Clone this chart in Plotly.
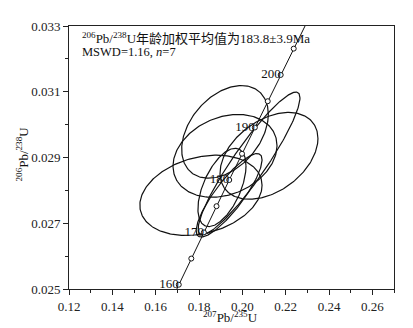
import numpy as np
import plotly.graph_objects as go

# ---- data ----
# ellipse centres (207Pb/235U, 206Pb/238U), half-axes (2 sigma) and error correlation
pb207_235 = [0.1920, 0.2031, 0.2123, 0.1920, 0.1809, 0.1939, 0.1906]
err207 = [0.0200, 0.0235, 0.0226, 0.0240, 0.0282, 0.0152, 0.0111]
pb206_238 = [0.02978, 0.02882, 0.02905, 0.02905, 0.02785, 0.02785, 0.02809]
err206 = [0.00141, 0.00217, 0.00132, 0.00126, 0.00122, 0.00127, 0.00119]
rho = [0.38, 0.92, 0.40, 0.25, 0.25, 0.85, 0.55]

# concordia ages (Ma)
conc_ages = [160, 165, 170, 175, 180, 185, 190, 195, 200, 205]
label_ages = [160, 170, 180, 190, 200]
x_ticks = [0.12, 0.14, 0.16, 0.18, 0.20, 0.22, 0.24, 0.26]
y_ticks = [0.025, 0.027, 0.029, 0.031, 0.033]

L238 = 1.55125e-10
L235 = 9.8485e-10


def conc(t_ma):
    t = np.asarray(t_ma, dtype=float) * 1e6
    return np.exp(L235 * t) - 1, np.exp(L238 * t) - 1


SERIF = "Liberation Serif, Times New Roman, serif"
fig = go.Figure()

th = np.linspace(0, 2 * np.pi, 240)
for cx, sx, cy, sy, r in zip(pb207_235, err207, pb206_238, err206, rho):
    ex = cx + sx * np.cos(th)
    ey = cy + sy * (r * np.cos(th) + np.sqrt(1 - r * r) * np.sin(th))
    fig.add_trace(go.Scatter(x=ex, y=ey, mode="lines",
                             line=dict(color="#111", width=1.2),
                             hoverinfo="skip", showlegend=False))

# concordia curve
tc = np.linspace(155, 215, 200)
cxl, cyl = conc(tc)
fig.add_trace(go.Scatter(x=cxl, y=cyl, mode="lines",
                         line=dict(color="#111", width=1), showlegend=False))
mx, my = conc(conc_ages)
fig.add_trace(go.Scatter(x=mx, y=my, mode="markers",
                         marker=dict(symbol="circle", size=5, color="white",
                                     line=dict(color="#111", width=1)),
                         showlegend=False))
lx, ly = conc(label_ages)
fig.add_trace(go.Scatter(x=lx, y=ly, mode="text", text=[str(a) for a in label_ages],
                         textposition="middle left",
                         textfont=dict(family=SERIF, size=13, color="#111"),
                         showlegend=False))

fig.add_annotation(xref="paper", yref="paper", x=0.034, y=0.958, xanchor="left", yanchor="middle",
                   text="<sup>206</sup>Pb/<sup>238</sup>U<span style='font-family:Noto Sans CJK SC'>年龄加权平均值为</span>183.8±3.9Ma",
                   showarrow=False, font=dict(family=SERIF, size=13, color="#111"))
fig.add_annotation(xref="paper", yref="paper", x=0.034, y=0.903, xanchor="left", yanchor="middle",
                   text="MSWD=1.16, <i>n</i>=7",
                   showarrow=False, font=dict(family=SERIF, size=12.5, color="#111"))

fig.add_annotation(xref="paper", yref="paper", x=0.496, y=-0.108, xanchor="center", yanchor="middle",
                   text="<sup>207</sup>Pb/<sup>235</sup>U", showarrow=False,
                   font=dict(family=SERIF, size=13, color="#111"))
fig.add_annotation(xref="paper", yref="paper", x=-0.145, y=0.515, xanchor="center", yanchor="middle",
                   text="<sup>206</sup>Pb/<sup>238</sup>U", showarrow=False, textangle=-90,
                   font=dict(family=SERIF, size=13, color="#111"))

axis_common = dict(showgrid=False, zeroline=False, showline=True, mirror=True,
                   linecolor="#222", linewidth=1, ticks="outside", ticklen=5,
                   tickcolor="#222", tickfont=dict(family=SERIF, size=13, color="#222"))
fig.update_xaxes(range=[0.12, 0.27], tickvals=x_ticks,
                 ticktext=[f"{v:.2f}" for v in x_ticks],
                 minor=dict(ticks="outside", ticklen=3, dtick=0.01, tick0=0.12, tickcolor="#222"),
                 **axis_common)
fig.update_yaxes(range=[0.025, 0.033], tickvals=y_ticks,
                 ticktext=[f"{v:.3f}" for v in y_ticks],
                 minor=dict(ticks="outside", ticklen=3, dtick=0.001, tick0=0.025, tickcolor="#222"),
                 **axis_common)
# page body has an 8px default margin, so the figure is offset by 8px
fig.update_layout(width=405, height=320, margin=dict(l=61, r=19, t=11, b=39),
                  plot_bgcolor="white", paper_bgcolor="white", showlegend=False)
fig.write_html("out.html")
